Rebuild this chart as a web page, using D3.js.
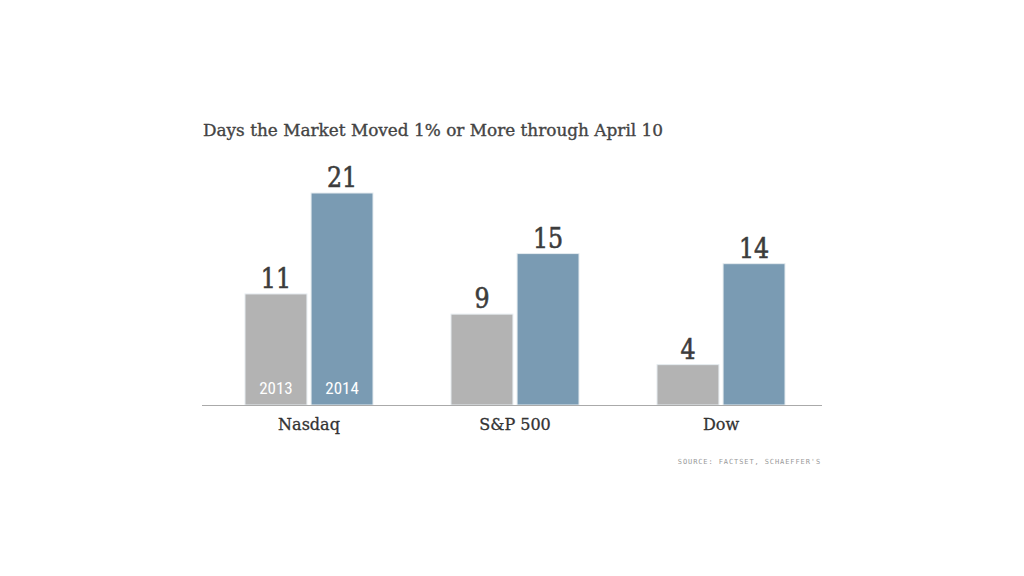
<!DOCTYPE html>
<html><head><meta charset="utf-8">
<script src="https://cdn.jsdelivr.net/npm/d3@7"></script>
<style>body{margin:0;background:#fff}</style>
</head><body>
<svg id="c" width="1024" height="576"></svg>
<script>
const categories = ["Nasdaq", "S&P 500", "Dow"];
const years = ["2013", "2014"];
const values2013 = [11, 9, 4];
const values2014 = [21, 15, 14];
const title = "Days the Market Moved 1% or More through April 10";
const source = "SOURCE: FACTSET, SCHAEFFER'S";

const colors = {"2013": "#b3b3b3", "2014": "#7a9bb3"};
const svg = d3.select("#c");
const baseY = 405;
const left = 202, right = 822;

const xg = d3.scaleBand().domain(categories).range([245, 245 + 206*3]).paddingInner(0).paddingOuter(0);
const xi = d3.scaleBand().domain(years).range([0, 128]).paddingInner(4/128*2);
const y = d3.scaleLinear().domain([0, 21]).range([baseY, baseY - 212]);

svg.append("text").attr("x", 203).attr("y", 136)
  .attr("font-family", "DejaVu Serif").attr("font-size", 16.5).attr("fill", "#444")
  .attr("stroke", "#444").attr("stroke-width", 0.35)
  .attr("textLength", 460).attr("lengthAdjust", "spacingAndGlyphs")
  .text(title);

const data = [];
categories.forEach((c, i) => {
  data.push({cat: c, year: "2013", v: values2013[i]});
  data.push({cat: c, year: "2014", v: values2014[i]});
});

const g = svg.append("g");
g.selectAll("rect").data(data).join("rect")
  .attr("x", d => xg(d.cat) + xi(d.year))
  .attr("width", xi.bandwidth())
  .attr("y", d => y(d.v))
  .attr("height", d => baseY - y(d.v))
  .attr("fill", d => colors[d.year])
  .attr("stroke", "#e6ecf0").attr("stroke-width", 1);

g.selectAll("text.val").data(data).join("text").attr("class", "val")
  .attr("text-anchor", "middle")
  .attr("font-family", "DejaVu Serif").attr("font-size", 27).attr("fill", "#3c3c3c")
  .attr("stroke", "#3c3c3c").attr("stroke-width", 0.6)
  .attr("transform", d => `translate(${xg(d.cat) + xi(d.year) + xi.bandwidth()/2},${y(d.v) - 6}) scale(0.88,1)`)
  .text(d => d.v);

g.selectAll("text.yr").data(years).join("text").attr("class", "yr")
  .attr("x", d => xg(categories[0]) + xi(d) + xi.bandwidth()/2)
  .attr("y", 394)
  .attr("text-anchor", "middle")
  .attr("font-family", "Roboto").attr("font-stretch", "condensed").attr("font-size", 17)
  .attr("fill", "#fff")
  .text(d => d);

svg.append("line").attr("x1", left).attr("x2", right).attr("y1", baseY + 0.5).attr("y2", baseY + 0.5)
  .attr("stroke", "#aaa").attr("stroke-width", 1);

const xAxis = d3.axisBottom(d3.scaleBand().domain(categories).range([xg(categories[0]), xg(categories[0]) + 206*3]).paddingInner(0))
  .tickSize(0);
const ax = svg.append("g").attr("transform", `translate(0,${baseY})`).call(xAxis);
ax.select(".domain").remove();
ax.selectAll("text").attr("font-family", "DejaVu Serif").attr("font-size", 16).attr("fill", "#333")
  .attr("stroke", "#333").attr("stroke-width", 0.3)
  .attr("dy", null).attr("y", 25).attr("dx", null);
ax.selectAll(".tick").attr("transform", d => `translate(${xg(d) + 64},0)`);

svg.append("text").attr("x", 821).attr("y", 464).attr("text-anchor", "end")
  .attr("font-family", "DejaVu Sans Mono").attr("font-size", 7).attr("letter-spacing", 0.9)
  .attr("fill", "#999").text(source);
</script>
</body></html>
